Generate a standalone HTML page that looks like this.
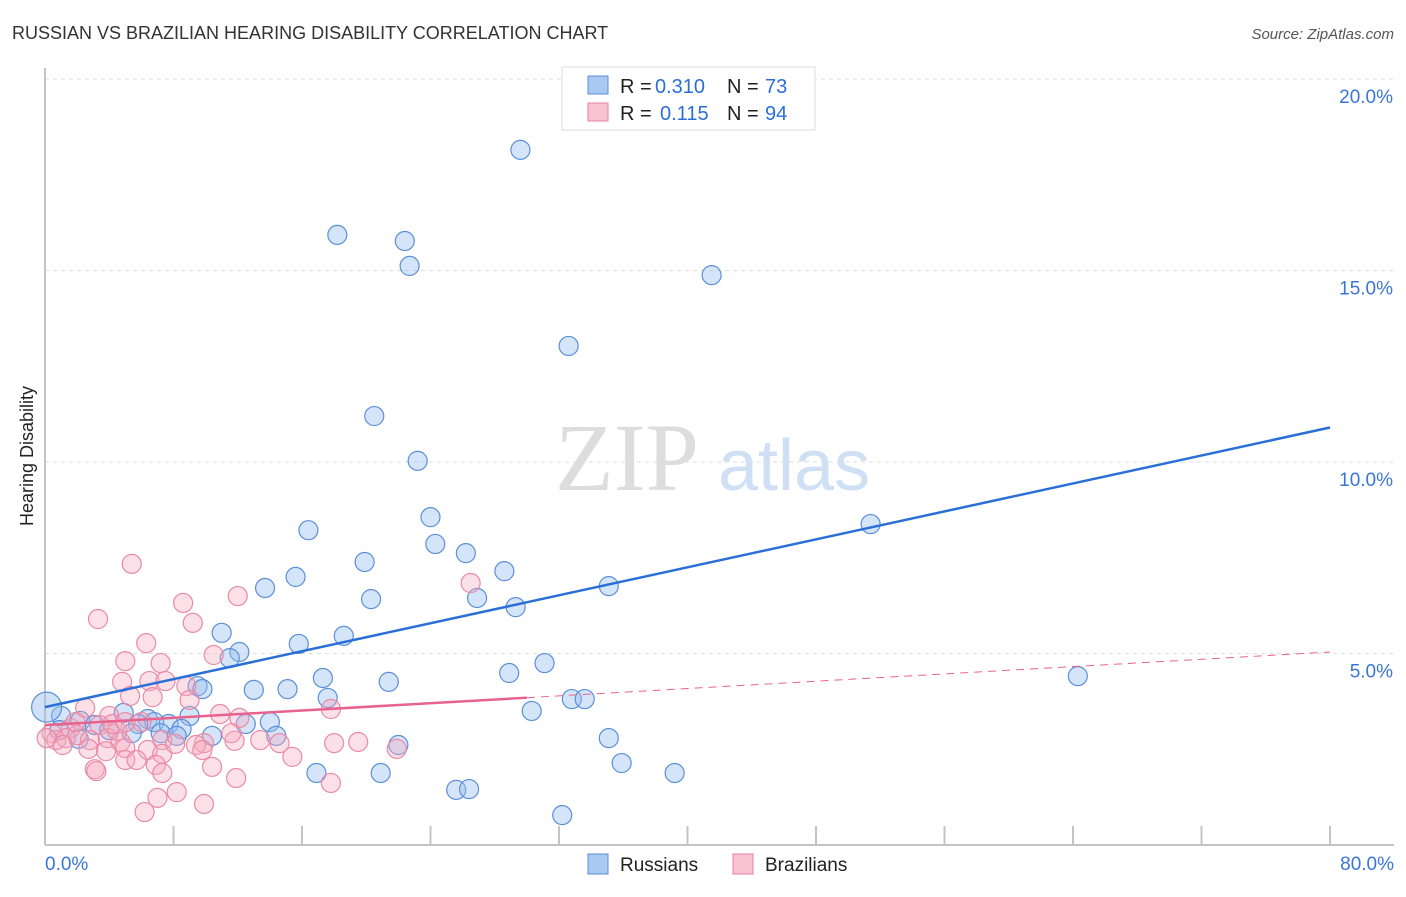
<!DOCTYPE html>
<html><head><meta charset="utf-8"><style>
body{margin:0;background:#fff;font-family:"Liberation Sans",sans-serif}
</style></head><body>
<svg width="1406" height="892" xmlns="http://www.w3.org/2000/svg" id="chart">
<text x="12" y="39" font-size="18" fill="#333">RUSSIAN VS BRAZILIAN HEARING DISABILITY CORRELATION CHART</text>
<text x="1394" y="39" font-size="15" fill="#555" font-style="italic" text-anchor="end">Source: ZipAtlas.com</text>
<text x="33" y="456" font-size="18" fill="#222" text-anchor="middle" transform="rotate(-90 33 456)">Hearing Disability</text>
<text x="555" y="490" font-size="96" fill="#ddd" font-family="Liberation Serif,serif">ZIP</text>
<text x="718" y="490" font-size="72" fill="#cfe0f5">atlas</text>
<g id="grid"></g><g id="axes"></g><g id="pts"></g><g id="lines"></g>
<g>
<rect x="562" y="67" width="253" height="63" fill="#fff" stroke="#ddd"/>
<rect x="588" y="76" width="20" height="18" fill="#a9c9f2" stroke="#5b8fd8"/>
<rect x="588" y="103" width="20" height="18" fill="#f9c3d3" stroke="#e8829f"/>
<text x="620" y="93" font-size="20" fill="#222">R =</text>
<text x="655" y="93" font-size="20" fill="#2b6fd6">0.310</text>
<text x="727" y="93" font-size="20" fill="#222">N =</text>
<text x="765" y="93" font-size="20" fill="#2b6fd6">73</text>
<text x="620" y="120" font-size="20" fill="#222">R =</text>
<text x="660" y="120" font-size="20" fill="#2b6fd6">0.115</text>
<text x="727" y="120" font-size="20" fill="#222">N =</text>
<text x="765" y="120" font-size="20" fill="#2b6fd6">94</text>
</g>
<g>
<rect x="588" y="854" width="20" height="20" fill="#a9c9f2" stroke="#5b8fd8"/>
<text x="620" y="871" font-size="19" fill="#222">Russians</text>
<rect x="733" y="854" width="20" height="20" fill="#f9c3d3" stroke="#e8829f"/>
<text x="765" y="871" font-size="19" fill="#222">Brazilians</text>
</g>
</svg>
<script>
const yTicks=[5,10,15,20];
const yTickLabels=["5.0%","10.0%","15.0%","20.0%"];
const xTicks=[0,8,16,24,32,40,48,56,64,72,80];
const xEndLabels=["0.0%","80.0%"];
const rusX=[29.6,18.2,22.4,22.7,41.5,32.6,20.5,23.2,24.0,16.4,24.3,26.2,19.9,28.6,15.6,13.7,35.1,26.9,20.3,29.3,51.4,11.0,18.6,15.8,12.1,11.5,31.1,64.3,28.9,17.3,21.4,9.5,9.8,13.0,15.1,17.6,32.8,33.6,30.3,1.0,4.9,9.0,6.4,6.8,7.7,8.5,5.8,12.5,14.0,10.4,7.2,8.2,5.4,14.4,2.1,2.2,35.1,22.0,35.9,39.2,16.9,20.9,25.6,26.4,32.2,3.1,4.0,0.9];
const rusY=[18.15,15.93,15.77,15.12,14.88,13.03,11.2,10.03,8.56,8.22,7.86,7.62,7.39,7.15,7.0,6.71,6.76,6.45,6.42,6.21,8.38,5.54,5.46,5.25,5.04,4.88,4.75,4.41,4.49,4.36,4.26,4.15,4.07,4.05,4.07,3.84,3.81,3.81,3.5,3.37,3.45,3.37,3.29,3.21,3.16,3.03,3.16,3.16,3.21,2.85,2.92,2.85,2.92,2.85,2.77,3.24,2.79,2.61,2.14,1.88,1.88,1.88,1.44,1.46,0.78,3.13,3.0,3.0];
const braX=[5.4,3.3,8.6,12.0,9.2,26.5,6.3,5.0,7.2,10.5,4.8,6.5,7.5,8.8,5.3,6.7,9.0,17.8,10.9,12.1,2.5,4.0,6.0,3.4,1.6,0.4,0.7,1.3,2.0,2.8,3.9,4.7,4.5,9.9,11.8,13.4,14.6,9.4,7.3,18.0,19.5,5.0,2.7,3.8,6.4,11.6,9.8,7.3,15.4,5.0,5.7,6.9,10.4,3.1,3.2,7.3,11.9,17.8,8.2,7.0,9.9,6.2,21.9,1.1,0.1,1.9,4.2,5.0,8.1];
const braY=[7.34,5.9,6.32,6.5,5.8,6.84,5.27,4.8,4.75,4.96,4.26,4.28,4.28,4.15,3.89,3.86,3.79,3.55,3.42,3.32,3.58,3.37,3.21,3.13,3.05,2.92,2.74,2.79,2.87,2.74,2.79,2.69,2.98,2.66,2.72,2.74,2.66,2.61,2.74,2.66,2.69,2.53,2.51,2.45,2.48,2.92,2.48,2.38,2.3,2.22,2.22,2.09,2.04,1.98,1.93,1.88,1.75,1.62,1.38,1.23,1.07,0.86,2.51,2.61,2.79,3.21,3.16,3.21,2.64];
const rusTrend=[3.6,10.9];
const braTrend=[3.13,5.04];
const braSolidEnd=30;
const NS="http://www.w3.org/2000/svg";
const X=v=>45+v/80*1285, Y=v=>845-v*38.3;
function mk(t,a,p){const e=document.createElementNS(NS,t);for(const k in a)e.setAttribute(k,a[k]);p.appendChild(e);return e;}
const grid=document.getElementById('grid'),axes=document.getElementById('axes'),pts=document.getElementById('pts'),lines=document.getElementById('lines');
yTicks.forEach((v,i)=>{
 const l=mk('line',{x1:45,x2:1394,y1:Y(v),y2:Y(v),stroke:'#ddd','stroke-dasharray':'4,4'},grid);
 
 
 const t=mk('text',{x:1393,y:Y(v)+24,'font-size':19,fill:'#3a76d8','text-anchor':'end'},axes);
 t.textContent=yTickLabels[i];
 
 
});
const ya=mk('line',{x1:45,x2:45,y1:68,y2:845,stroke:'#c4c4c4','stroke-width':2},axes);


const xa=mk('line',{x1:45,x2:1394,y1:845,y2:845,stroke:'#c4c4c4','stroke-width':2},axes);


xTicks.forEach(v=>{
 const l=mk('line',{x1:X(v),x2:X(v),y1:826,y2:845,stroke:'#c4c4c4','stroke-width':2},axes);
 
 
});
[[0,'start',45],[80,'end',1394]].forEach((d,i)=>{
 const t=mk('text',{x:d[2],y:870,'font-size':19,fill:'#3a76d8','text-anchor':d[1]},axes);
 t.textContent=xEndLabels[i];
 
 
});
rusX.forEach((x,i)=>{
 const c=mk('circle',{cx:X(x),cy:Y(rusY[i]),r:9.5,fill:'rgba(150,190,240,0.4)',stroke:'#5b8fd8','stroke-width':1.2},pts);
 
 
});
const big=mk('circle',{cx:X(0.1),cy:Y(3.6),r:15,fill:'rgba(150,190,240,0.45)',stroke:'#5b8fd8','stroke-width':1.2},pts);


braX.forEach((x,i)=>{
 const c=mk('circle',{cx:X(x),cy:Y(braY[i]),r:9.5,fill:'rgba(245,165,190,0.35)',stroke:'#ea8aa6','stroke-width':1.2},pts);
 
 
});
const rl=mk('line',{x1:X(0),y1:Y(rusTrend[0]),x2:X(80),y2:Y(rusTrend[1]),stroke:'#2a6fd6','stroke-width':2.5},lines);


const bm=v=>braTrend[0]+(braTrend[1]-braTrend[0])*v/80;
const bs=mk('line',{x1:X(0),y1:Y(bm(0)),x2:X(braSolidEnd),y2:Y(bm(braSolidEnd)),stroke:'#e8628e','stroke-width':2.5},lines);


const bd=mk('line',{x1:X(braSolidEnd),y1:Y(bm(braSolidEnd)),x2:X(80),y2:Y(bm(80)),stroke:'#e8628e','stroke-width':1,'stroke-dasharray':'8,6'},lines);


</script>
</body></html>
